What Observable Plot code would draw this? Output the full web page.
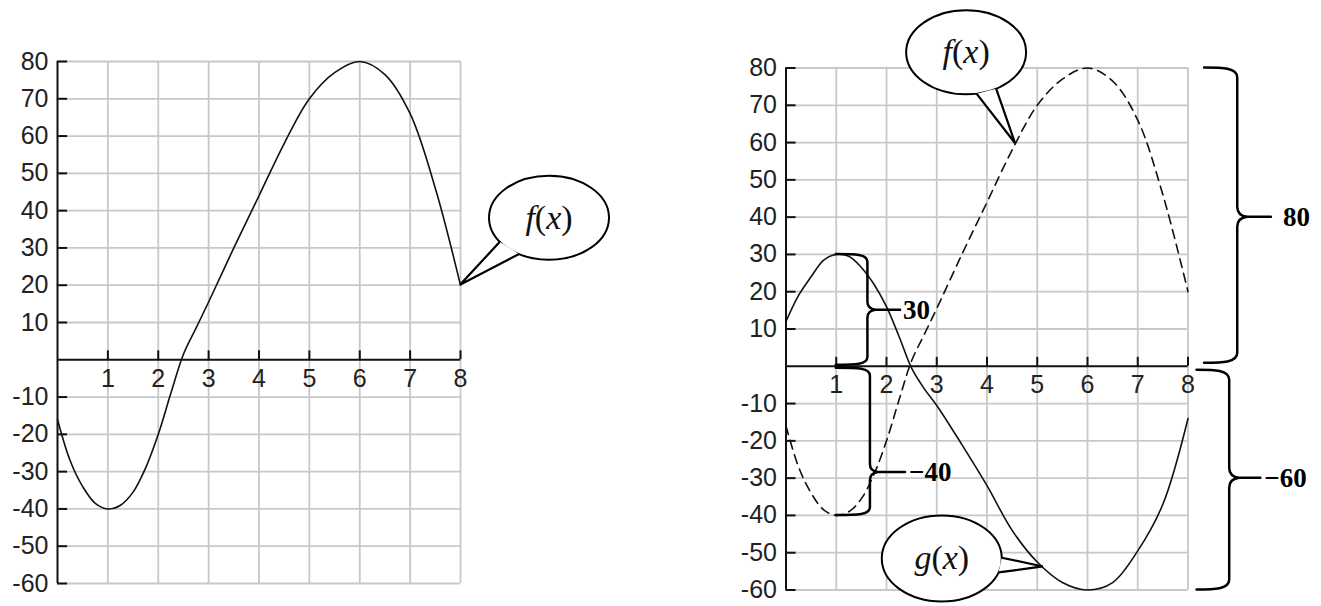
<!DOCTYPE html>
<html>
<head>
<meta charset="utf-8">
<script src="https://cdn.jsdelivr.net/npm/d3@7"></script>
<script src="https://cdn.jsdelivr.net/npm/@observablehq/plot@0.6"></script>
<style>
  html, body { margin: 0; padding: 0; background: #fff; }
  #wrap { position: relative; width: 1321px; height: 606px; overflow: hidden; background: #fff; }
  #wrap svg { position: absolute; overflow: visible; }
</style>
</head>
<body>
<div id="wrap"></div>
<script>
// Sample points of the two curves
const xs      = [0, 0.25, 0.5, 0.75, 1, 1.25, 1.5, 1.75, 2, 2.25, 2.5, 2.75, 3, 3.5, 4, 4.5, 5, 5.5, 6, 6.5, 7, 7.5, 8];
const fValues = [-16, -27, -34, -38.5, -40, -39, -35.5, -29, -20, -9, 1.5, 8.5, 15.5, 30, 44, 58, 70, 77, 80, 76.5, 66, 46, 20];
const gValues = [12, 19, 24, 28.5, 30, 29.5, 26.5, 22, 16, 8, -0.5, -6, -10.5, -21, -32, -44, -52.5, -58, -60, -58, -49.5, -37, -14];

// Axis ticks
const xTicks = [1, 2, 3, 4, 5, 6, 7, 8];
const yTicks = [80, 70, 60, 50, 40, 30, 20, 10, -10, -20, -30, -40, -50, -60];

const fData = xs.map((x, i) => ({x, y: fValues[i]}));
const gData = xs.map((x, i) => ({x, y: gValues[i]}));

const xDomain = [0, d3.max(xs)];
const yDomain = [d3.min(yTicks), d3.max(yTicks)];

const fmtSigned = v => (v < 0 ? "\u2212" + Math.abs(v) : String(v));
const valueAt = (data, x) => {
  const i = d3.bisector(d => d.x).right(data, x);
  const a = data[i - 1], b = data[i] || a;
  if (a === b) return a.y;
  return a.y + (b.y - a.y) * (x - a.x) / (b.x - a.x);
};

const SANS = "Liberation Sans, Arial, sans-serif";
const SERIF = "Liberation Serif, Times New Roman, serif";

// Grid, axes and tick labels shared by both panels
function frameMarks() {
  const grid = "#c8c8c8";
  const ink = "#111";
  return [
    Plot.ruleX(xTicks, {y1: yDomain[0], y2: yDomain[1], stroke: grid, strokeWidth: 1.8}),
    Plot.ruleY(yTicks, {x1: xDomain[0], x2: xDomain[1], stroke: grid, strokeWidth: 1.8}),
    Plot.ruleY(yTicks, {x1: 0, x2: 0.2, stroke: ink, strokeWidth: 2}),
    Plot.ruleX(xTicks, {y1: 0, y2: 2.4, stroke: ink, strokeWidth: 2}),
    Plot.ruleX([0], {y1: yDomain[0], y2: yDomain[1], stroke: ink, strokeWidth: 2}),
    Plot.ruleY([0], {x1: xDomain[0], x2: xDomain[1], stroke: ink, strokeWidth: 2}),
    Plot.text(xTicks, {x: d => d, y: 0, dy: 19, text: d => String(d), fontSize: 25, fill: "#222", fontFamily: SANS})
  ];
}

// Speech bubble pointing at a point of a curve
function bubble({tipX, tipY, dx, dy, rx, ry, a1, a2, name}) {
  return (index, scales) => {
    const tx = scales.x(tipX), ty = scales.y(tipY);
    const cx = tx + dx, cy = ty + dy;
    const g = d3.create("svg:g");
    g.append("ellipse")
      .attr("cx", cx).attr("cy", cy).attr("rx", rx).attr("ry", ry)
      .attr("fill", "#fff").attr("stroke", "#000").attr("stroke-width", 2);
    const pt = a => [cx + rx * Math.cos(a * Math.PI / 180), cy + ry * Math.sin(a * Math.PI / 180)];
    const b1 = pt(a1), b2 = pt(a2);
    g.append("path")
      .attr("d", `M${b1}L${tx},${ty}L${b2}`)
      .attr("fill", "#fff").attr("stroke", "#000").attr("stroke-width", 2.2).attr("stroke-linejoin", "miter");
    const t = g.append("text")
      .attr("x", cx).attr("y", cy + 11)
      .attr("text-anchor", "middle")
      .attr("font-family", SERIF)
      .attr("font-size", 34).attr("fill", "#111");
    t.append("tspan").attr("font-style", "italic").text(name);
    t.append("tspan").text("(");
    t.append("tspan").attr("font-style", "italic").text("x");
    t.append("tspan").text(")");
    return g.node();
  };
}

// Curly brace spanning [y1, y0] with a labelled cusp at ym
function brace({x0, xv, xt, y0, y1, ym, label, gap = 4, r = 8, inset0 = 0, inset1 = 0}) {
  return (index, scales) => {
    const X0 = scales.x(x0), XV = scales.x(xv), XT = scales.x(xt);
    const Y0 = scales.y(y0) + inset0, Y1 = scales.y(y1) + inset1, YM = scales.y(ym);
    const d = `M${X0},${Y0}C${XV - r * 1.5},${Y0} ${XV},${Y0} ${XV},${Y0 + r}` +
              `V${YM - r}Q${XV},${YM - 1} ${XV + r},${YM}H${XT}` +
              `M${XV + r},${YM}Q${XV},${YM + 1} ${XV},${YM + r}` +
              `V${Y1 - r}C${XV},${Y1} ${XV - r * 1.5},${Y1} ${X0},${Y1}`;
    const g = d3.create("svg:g");
    g.append("path").attr("d", d).attr("fill", "none")
      .attr("stroke", "#000").attr("stroke-width", 2.5).attr("stroke-linecap", "round");
    g.append("text")
      .attr("x", XT + gap).attr("y", YM + 9)
      .attr("text-anchor", "start")
      .attr("font-family", SERIF)
      .attr("font-weight", "bold").attr("font-size", 27).attr("fill", "#000")
      .text(label);
    return g.node();
  };
}

function makePlot({width, height, marginLeft, marginRight, marginTop, marginBottom, marks}) {
  return Plot.plot({
    width, height, marginLeft, marginRight, marginTop, marginBottom,
    style: {fontFamily: SANS, fontSize: "25px", color: "#222", background: "transparent", overflow: "visible"},
    x: {domain: xDomain, axis: null, label: null},
    y: {domain: yDomain, ticks: yTicks, tickSize: 0, tickPadding: 9, tickFormat: d => String(d), label: null},
    marks
  });
}

const wrap = document.getElementById("wrap");

// Left panel: f(x) alone
const left = makePlot({
  width: 640, height: 606, marginLeft: 57, marginRight: 180, marginTop: 61, marginBottom: 23,
  marks: [
    ...frameMarks(),
    Plot.line(fData, {x: "x", y: "y", curve: "catmull-rom", stroke: "#111", strokeWidth: 1.6}),
    bubble({tipX: 8, tipY: valueAt(fData, 8), dx: 89, dy: -67, rx: 60, ry: 42, a1: 145, a2: 120, name: "f"})
  ]
});
left.style.left = "0px";
left.style.top = "0px";
wrap.appendChild(left);

// Right panel: f(x) dashed with g(x), and the braces giving their extremes
const fMax = d3.max(fValues), fMin = d3.min(fValues);
const gMax = d3.max(gValues), gMin = d3.min(gValues);
const xAt = (vals, v) => xs[vals.indexOf(v)];

const right = makePlot({
  width: 661, height: 606, marginLeft: 125.5, marginRight: 133.5, marginTop: 67.5, marginBottom: 16.5,
  marks: [
    ...frameMarks(),
    Plot.line(fData, {x: "x", y: "y", curve: "catmull-rom", stroke: "#111", strokeWidth: 1.6, strokeDasharray: "9,6"}),
    Plot.line(gData, {x: "x", y: "y", curve: "catmull-rom", stroke: "#111", strokeWidth: 1.6}),
    brace({x0: xAt(gValues, gMax), xv: 1.63, xt: 2.28, y0: gMax, y1: 0, ym: gMax / 2, inset1: -1, gap: 3, label: fmtSigned(gMax)}),
    brace({x0: xAt(fValues, fMin), xv: 1.68, xt: 2.38, y0: 0, y1: fMin, ym: -28.5, inset0: 2, gap: 4, label: fmtSigned(fMin)}),
    brace({x0: 8.33, xv: 8.99, xt: 9.66, y0: fMax, y1: 0, ym: fMax / 2, r: 10, inset1: -3, gap: 12, label: fmtSigned(fMax)}),
    brace({x0: 8.18, xv: 8.83, xt: 9.45, y0: 0, y1: gMin, ym: gMin / 2, r: 10, inset0: 4, gap: 4, label: fmtSigned(gMin)}),
    bubble({tipX: 4.57, tipY: valueAt(fData, 4.57), dx: -49, dy: -91, rx: 60, ry: 42, a1: 80, a2: 60, name: "f"}),
    bubble({tipX: 5.12, tipY: valueAt(gData, 5.12), dx: -101, dy: -8, rx: 60, ry: 43, a1: -1, a2: 19, name: "g"})
  ]
});
right.style.left = "660px";
right.style.top = "0px";
wrap.appendChild(right);
</script>
</body>
</html>
